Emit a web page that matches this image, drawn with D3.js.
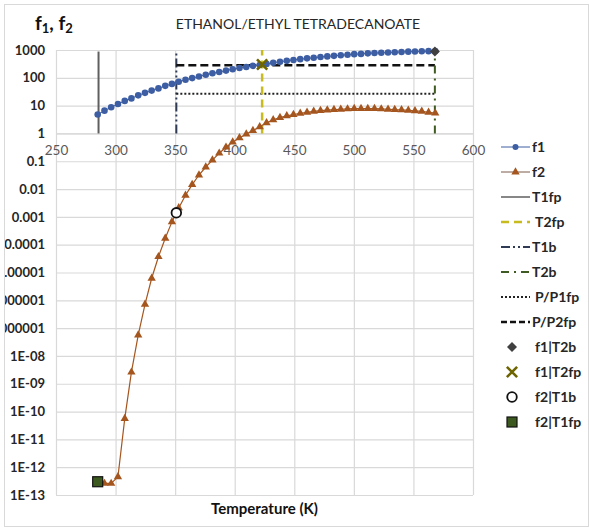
<!DOCTYPE html>
<html>
<head>
<meta charset="utf-8">
<script src="https://cdn.jsdelivr.net/npm/d3@7"></script>
<style>
  body { margin: 0; background: #fff; }
  text { font-family: Lato, 'Liberation Sans', sans-serif; }
</style>
</head>
<body>
<div id="chart"></div>
<script>
// temperatures (K) of the computed points
const temps = [285, 290.7, 296.3, 302, 307.7, 313.3, 319, 324.7, 330.3, 336, 341.7, 347.3, 353, 358.7, 364.3, 370,
  375.7, 381.3, 387, 392.7, 398.3, 404, 409.7, 415.3, 421, 426.7, 432.3, 438, 443.7, 449.3, 455, 460.7, 466.3, 472,
  477.7, 483.3, 489, 494.7, 500.3, 506, 511.7, 517.3, 523, 528.7, 534.3, 540, 545.7, 551.3, 557, 562.7, 568.3]

const f1 = [4.8, 6.6, 8.7, 11.5, 14.8, 18.2, 23.4, 28.8, 34.7, 41.7, 51.3, 60.3, 72.4, 85.1, 97.7, 112,
  129, 145, 162, 182, 204, 224, 245, 269, 288, 316, 347, 380, 407, 437, 468, 501, 525, 562,
  589, 617, 646, 676, 708, 724, 759, 776, 794, 813, 832, 851, 871, 885, 898, 910, 915]

const f2 = [2.95e-13, 2.6e-13, 2.6e-13, 4.5e-13, 5.6e-11, 2.6e-9, 5.6e-8, 7.2e-7, 6.2e-6, 3.7e-5, 1.7e-4, 6.6e-4,
  2.1e-3, 6.0e-3, 0.0145, 0.032, 0.062, 0.11, 0.195, 0.32, 0.49, 0.69, 0.95, 1.26, 1.74, 2.4, 3.1, 3.7, 4.3,
  4.8, 5.25, 5.75, 6.2, 6.6, 6.9, 7.2, 7.4, 7.6, 7.8, 7.8, 7.8, 7.8, 7.6, 7.4, 7.2, 7.1, 6.8, 6.5, 6.2, 5.75, 5.4]

// characteristic temperatures and pressure ratios
const t1fp = 285.7
const t2fp = 423
const t1b = 351
const t2b = 568
const p1fp = 27
const p2fp = 285
const vTop = 880

// single points
const f1AtT2b = [568, 880]
const f1AtT2fp = [423, 300]
const f2AtT1b = [351, 0.0014]
const f2AtT1fp = [285, 3e-13]

const xTicks = [250, 300, 350, 400, 450, 500, 550, 600]
const yTicks = [1000, 100, 10, 1, 0.1, 0.01, 0.001, 1e-4, 1e-5, 1e-6, 1e-7, 1e-8, 1e-9, 1e-10, 1e-11, 1e-12, 1e-13]
const yTickLabels = ['1000', '100', '10', '1', '0.1', '0.01', '0.001', '0.0001', '0.00001', '0.000001', '0.0000001',
  '1E-08', '1E-09', '1E-10', '1E-11', '1E-12', '1E-13']

const legendNames = ['f1', 'f2', 'T1fp', 'T2fp', 'T1b', 'T2b', 'P/P1fp', 'P/P2fp', 'f1|T2b', 'f1|T2fp', 'f2|T1b', 'f2|T1fp']

const width = 589
const height = 529
const plot = { left: 56, right: 473, top: 50, bottom: 495 }

const colF1 = '#3d5ea3'
const colF2 = '#a5561f'
const colT1fp = '#5f5f5f'
const colT2fp = '#c8bb1e'
const colT1b = '#2f3b55'
const colT2b = '#3f5a22'
const gridCol = '#d9d9d9'

const x = d3.scaleLinear().domain([250, 600]).range([plot.left, plot.right])
const y = d3.scaleLog().domain([1e-13, 1000]).range([plot.bottom, plot.top])

const svg = d3.select('#chart').append('svg')
  .attr('width', width)
  .attr('height', height)

svg.append('defs').append('clipPath').attr('id', 'frame')
  .append('rect').attr('x', 5).attr('y', 5).attr('width', width - 6).attr('height', height - 7)

svg.append('rect')
  .attr('x', 4.5).attr('y', 4.5)
  .attr('width', width - 5).attr('height', height - 7)
  .attr('fill', '#fff')
  .attr('stroke', gridCol)

const root = svg.append('g').attr('clip-path', 'url(#frame)')

// vertical gridlines
root.append('g')
  .attr('transform', `translate(0,${plot.bottom})`)
  .call(d3.axisBottom(x).tickValues(xTicks).tickFormat('').tickSize(-(plot.bottom - plot.top)))
  .call(g => g.select('.domain').remove())
  .call(g => g.selectAll('line').attr('stroke', gridCol).attr('stroke-width', 1.2))

// horizontal gridlines + y labels
root.append('g')
  .attr('transform', `translate(${plot.left},0)`)
  .call(d3.axisLeft(y).tickValues(yTicks).tickFormat((d, i) => yTickLabels[i])
    .tickSize(-(plot.right - plot.left)).tickPadding(11))
  .call(g => g.select('.domain').remove())
  .call(g => g.selectAll('line').attr('stroke', gridCol).attr('stroke-width', 1.2))
  .call(g => g.selectAll('text')
    .attr('font-size', 13).attr('font-weight', 'bold').attr('fill', '#262626')
    .style('font-family', 'Lato, sans-serif'))

// x labels sit on the y = 1 line
root.append('g')
  .attr('transform', `translate(0,${y(1)})`)
  .call(d3.axisBottom(x).tickValues(xTicks).tickSize(0).tickPadding(12))
  .call(g => g.select('.domain').attr('stroke', gridCol).attr('stroke-width', 1.2))
  .call(g => g.selectAll('text')
    .attr('font-size', 13.5).attr('fill', '#595959')
    .style('font-family', 'Lato, sans-serif'))

// reference lines
const vLine = (t, lo, hi, col, w, dash) => root.append('line')
  .attr('x1', x(t)).attr('x2', x(t))
  .attr('y1', y(lo)).attr('y2', y(hi))
  .attr('stroke', col).attr('stroke-width', w)
  .attr('stroke-dasharray', dash)

const hLine = (v, a, b, col, w, dash) => root.append('line')
  .attr('x1', x(a)).attr('x2', x(b))
  .attr('y1', y(v)).attr('y2', y(v))
  .attr('stroke', col).attr('stroke-width', w)
  .attr('stroke-dasharray', dash)

vLine(t1fp, 1, vTop, colT1fp, 2, null)
vLine(t1b, 1, vTop, colT1b, 2, '9,3,2,3,2,3')
hLine(p1fp, t1b, t2b, '#222', 2, '2,2')
hLine(p2fp, t1b, t2b, '#111', 2.5, '8,4')
vLine(t2b, 1, vTop, colT2b, 2, '8,5,2,5')
vLine(t2fp, 1, 1000, colT2fp, 2.5, '8,5')

// series
const f1Data = temps.map((t, i) => ({ t: t, v: f1[i] }))
const f2Data = temps.map((t, i) => ({ t: t, v: f2[i] }))

const line = d3.line().x(d => x(d.t)).y(d => y(d.v))

root.append('path').datum(f1Data)
  .attr('d', line).attr('fill', 'none').attr('stroke', colF1).attr('stroke-width', 1)

root.append('path').datum(f2Data)
  .attr('d', line).attr('fill', 'none').attr('stroke', colF2).attr('stroke-width', 1.2)

root.selectAll('.f1dot')
  .data(f1Data)
  .enter()
  .append('circle')
  .attr('class', 'f1dot')
  .attr('cx', d => x(d.t))
  .attr('cy', d => y(d.v))
  .attr('r', 3.3)
  .attr('fill', colF1)

const tri = d3.symbol().type(d3.symbolTriangle).size(30)

root.selectAll('.f2tri')
  .data(f2Data)
  .enter()
  .append('path')
  .attr('class', 'f2tri')
  .attr('d', tri)
  .attr('transform', d => `translate(${x(d.t)},${y(d.v)})`)
  .attr('fill', colF2)

// point markers
const square = d3.symbol().type(d3.symbolSquare).size(50)
const cross = d3.symbol().type(d3.symbolX).size(70)

const drawDiamond = (g, cx, cy) => g.append('path').attr('d', square)
  .attr('transform', `translate(${cx},${cy}) rotate(45)`).attr('fill', '#404040')
const drawCross = (g, cx, cy) => g.append('path').attr('d', cross)
  .attr('transform', `translate(${cx},${cy})`).attr('fill', 'none')
  .attr('stroke', '#6e6400').attr('stroke-width', 2.6)
const drawCircle = (g, cx, cy) => g.append('circle').attr('cx', cx).attr('cy', cy).attr('r', 4.8)
  .attr('fill', '#fff').attr('stroke', '#111').attr('stroke-width', 1.8)
const drawSquare = (g, cx, cy) => g.append('rect').attr('x', cx - 5).attr('y', cy - 5)
  .attr('width', 10).attr('height', 10).attr('fill', '#3c5a1f').attr('stroke', '#111').attr('stroke-width', 1.2)

drawDiamond(root, x(f1AtT2b[0]), y(f1AtT2b[1]))
drawCross(root, x(f1AtT2fp[0]), y(f1AtT2fp[1]))
drawCircle(root, x(f2AtT1b[0]), y(f2AtT1b[1]))
drawSquare(root, x(f2AtT1fp[0]), y(f2AtT1fp[1]))

// titles
root.append('text')
  .attr('x', 298).attr('y', 29)
  .attr('text-anchor', 'middle')
  .attr('font-size', 14)
  .attr('fill', '#262626')
  .text('ETHANOL/ETHYL TETRADECANOATE')

const yTitle = root.append('text')
  .attr('x', 35).attr('y', 30)
  .attr('font-size', 19).attr('font-weight', 'bold').attr('fill', '#111')
yTitle.append('tspan').text('f')
yTitle.append('tspan').attr('font-size', 13).attr('dy', 3).text('1')
yTitle.append('tspan').attr('dy', -3).text(', f')
yTitle.append('tspan').attr('font-size', 13).attr('dy', 3).text('2')

root.append('text')
  .attr('x', (plot.left + plot.right) / 2).attr('y', 514)
  .attr('text-anchor', 'middle')
  .attr('font-size', 15).attr('font-weight', 'bold').attr('fill', '#111')
  .text('Temperature (K)')

// legend
const legend = root.append('g')
const lx0 = 501
const lx1 = 530
legendNames.forEach((name, i) => {
  const ly = 147 + i * 25
  const g = legend.append('g')
  const seg = (col, w, dash) => g.append('line')
    .attr('x1', lx0).attr('x2', lx1).attr('y1', ly).attr('y2', ly)
    .attr('stroke', col).attr('stroke-width', w).attr('stroke-dasharray', dash)
  let tx = 532
  if (name === 'f1') {
    seg(colF1, 1, null)
    g.append('circle').attr('cx', (lx0 + lx1) / 2).attr('cy', ly).attr('r', 3).attr('fill', colF1)
  } else if (name === 'f2') {
    seg('#7a5a48', 1, null)
    g.append('path').attr('d', tri).attr('transform', `translate(${(lx0 + lx1) / 2},${ly})`).attr('fill', colF2)
  } else if (name === 'T1fp') {
    seg(colT1fp, 1.5, null)
  } else if (name === 'T2fp') {
    seg(colT2fp, 2.5, '8,5'); tx = 535
  } else if (name === 'T1b') {
    seg(colT1b, 2, '9,3,2,3,2,3')
  } else if (name === 'T2b') {
    seg(colT2b, 2, '8,5,2,5')
  } else if (name === 'P/P1fp') {
    seg('#222', 2, '2,2'); tx = 535
  } else if (name === 'P/P2fp') {
    seg('#111', 2.5, '6,3')
  } else {
    const mx = 512
    tx = 535
    if (name === 'f1|T2b') drawDiamond(g, mx, ly)
    if (name === 'f1|T2fp') drawCross(g, mx, ly)
    if (name === 'f2|T1b') drawCircle(g, mx, ly)
    if (name === 'f2|T1fp') drawSquare(g, mx, ly)
  }
  g.append('text')
    .attr('x', tx).attr('y', ly)
    .attr('dy', '0.35em')
    .attr('font-size', 14).attr('font-weight', 'bold').attr('fill', '#262626')
    .text(name)
})
</script>
</body>
</html>
